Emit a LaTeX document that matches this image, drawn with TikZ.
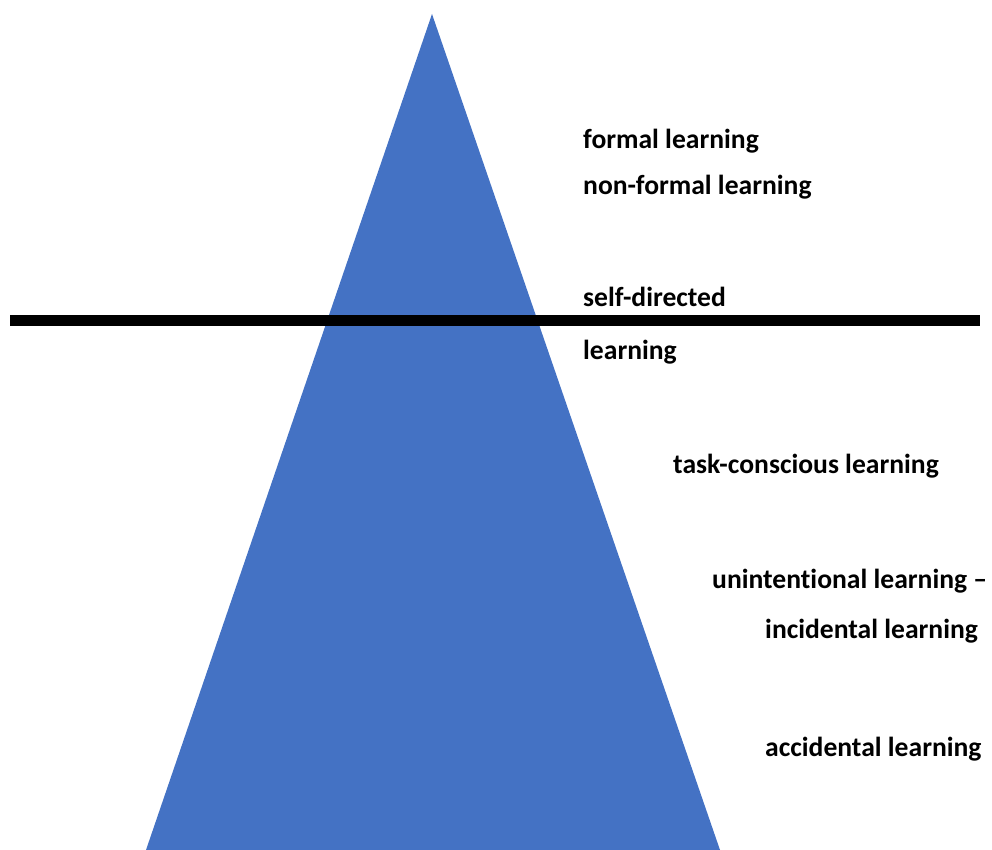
\documentclass[tikz,border=0pt]{standalone}
\usepackage{fontspec}
\setmainfont[Ligatures=NoCommon]{Carlito}
\definecolor{officeblue}{RGB}{68,114,196}
\begin{document}
\begin{tikzpicture}[x=1pt,y=-1pt,
  lbl/.style={anchor=base west,inner sep=0pt,font=\fontsize{27.6}{30}\selectfont\bfseries,text=black}]
\useasboundingbox (0,0) rectangle (992,850);
\fill[white] (0,0) rectangle (992,850);
% pyramid
\fill[officeblue] (432,14) -- (720,850) -- (146,850) -- cycle;
% horizontal bar
\fill[black] (10,315) rectangle (980,326);
% labels
\node[lbl] (formal) at (583,149) {formal learning};
\node[lbl] (nonformal) at (583,195) {non-formal learning};
\node[lbl] (selfdir) at (583,306) {self-directed};
\node[lbl] (learn) at (583,359) {learning};
\node[lbl] (task) at (673,473) {task-conscious learning};
\node[lbl] (unint) at (712,588) {unintentional learning –};
\node[lbl] (incid) at (765,638) {incidental learning};
\node[lbl] (accid) at (765,756) {accidental learning};
\end{tikzpicture}
\end{document}
